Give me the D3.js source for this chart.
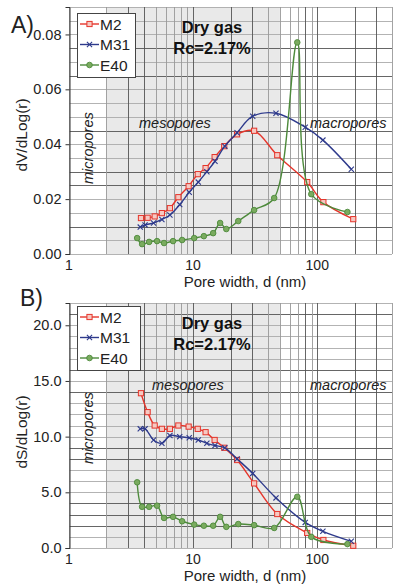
<!DOCTYPE html>
<meta charset="utf-8">
<style>
body { margin: 0; background: #fff; }
svg { font-family: "Liberation Sans", Arial, sans-serif; }
.tick-lab { font-size: 14px; fill: #222; }
.ann { font-size: 14.5px; font-style: italic; fill: #222; }
.title { font-size: 16.5px; font-weight: bold; fill: #111; }
</style>
<body>
<script src="https://d3js.org/d3.v7.min.js"></script>
<script>
// pore width (nm) per sample, shared by both panels
var dM2  = [3.8, 4.3, 4.9, 5.6, 6.5, 7.6, 9.2, 10.9, 12.6, 14.9, 17.8, 22.6, 31, 47.6, 83, 112, 195];
var dM31 = [3.75, 4.1, 4.8, 5.6, 6.5, 7.8, 9.3, 11.0, 12.9, 15.0, 18.0, 22.6, 30.2, 46.5, 80, 111, 188];
var dE40 = [3.54, 3.88, 4.42, 5.12, 5.83, 6.89, 8.15, 10.2, 12.2, 14.5, 16.5, 18.5, 23.1, 31, 45, 69, 89.5, 175];

// A) dV/dLog(r)
var vM2  = [0.0131, 0.0132, 0.0137, 0.0149, 0.0167, 0.0207, 0.0247, 0.0291, 0.0313, 0.0353, 0.0393, 0.0436, 0.0449, 0.036, 0.0262, 0.0189, 0.0127];
var vM31 = [0.0098, 0.0106, 0.0113, 0.0126, 0.0142, 0.0180, 0.0225, 0.0262, 0.0300, 0.0338, 0.0393, 0.0442, 0.0502, 0.0513, 0.0462, 0.0415, 0.0309];
var vE40 = [0.0058, 0.0036, 0.0044, 0.0047, 0.0040, 0.0047, 0.0051, 0.0058, 0.0065, 0.0076, 0.0113, 0.0091, 0.0120, 0.0160, 0.0204, 0.0771, 0.0218, 0.0153];

// B) dS/dLog(r)
var sM2  = [13.9, 12.2, 11.0, 10.7, 10.7, 11.0, 10.9, 10.7, 10.4, 9.7, 9.0, 7.9, 5.8, 3.05, 1.35, 0.72, 0.2];
var sM31 = [10.7, 10.7, 9.7, 9.4, 10.1, 10.0, 9.9, 9.7, 9.4, 9.2, 9.0, 8.0, 6.7, 4.5, 2.3, 1.5, 0.6];
var sE40 = [5.9, 3.7, 3.7, 3.8, 2.7, 2.8, 2.4, 2.1, 2.0, 2.0, 2.8, 1.9, 2.15, 2.05, 1.8, 4.6, 1.0, 0.35];

var seriesNames = ["M2", "M31", "E40"];
var xTicks = [1, 10, 100];
var xGrid = [1,2,3,4,5,6,7,8,9,10,20,30,40,50,60,70,80,90,100,200,300,400];
var xGridDark = [3, 4, 10, 20, 30, 80, 100, 200, 300];
var yTicksA = [0, 0.02, 0.04, 0.06, 0.08];
var yTicksB = [0, 5, 10, 15, 20];
var darkA = [0.01, 0.025, 0.03, 0.045, 0.065, 0.075];
var darkB = [2, 3, 4, 8, 9, 14, 16, 21];

var colors = { M2: "#e5352b", M31: "#2e3a8c", E40: "#4d8a3b" };

var svg = d3.select("body").append("svg")
  .attr("width", 396)
  .attr("height", 585);

var x = d3.scaleLog().domain([1, 400]).range([69, 392]);

function drawPanel(p) {
  var y = d3.scaleLinear().domain(p.yDomain).range([p.y1, p.y0]);
  var g = svg.append("g");

  // shaded mesopore band
  g.append("rect")
    .attr("x", x(2)).attr("width", x(50) - x(2))
    .attr("y", p.y0).attr("height", p.y1 - p.y0)
    .attr("fill", "#e9e9e9");

  // horizontal grid
  var hv = d3.range(0, p.yDomain[1] + p.minor / 2, p.minor);
  g.selectAll(".hg").data(hv).enter().append("line")
    .attr("x1", x(1)).attr("x2", x(400))
    .attr("y1", function(d) { return Math.round(y(d)) + 0.5; })
    .attr("y2", function(d) { return Math.round(y(d)) + 0.5; })
    .attr("stroke", function(d) {
      return p.dark.some(function(v) { return Math.abs(v - d) < 1e-6; }) ? "#555" : "#aaa";
    })
    .attr("stroke-width", 0.9);

  // vertical grid
  g.selectAll(".vg").data(xGrid).enter().append("line")
    .attr("x1", function(d) { return Math.round(x(d)) + 0.5; })
    .attr("x2", function(d) { return Math.round(x(d)) + 0.5; })
    .attr("y1", p.y0).attr("y2", p.y1)
    .attr("stroke", function(d) { return xGridDark.indexOf(d) >= 0 ? "#555" : "#999"; })
    .attr("stroke-width", 0.9);

  // left axis
  g.append("g")
    .attr("transform", "translate(" + (x(1) + 0.5) + ",0)")
    .call(d3.axisLeft(y).tickValues(p.yTicks).tickSize(4).tickPadding(4).tickFormat(p.fmt))
    .call(function(a) {
      a.select(".domain").attr("stroke", "#333");
      a.selectAll("line").attr("stroke", "#333");
      a.selectAll("text").attr("class", "tick-lab").style("font-size", "14.5px").attr("font-family", null);
    });

  // x tick labels
  g.selectAll(".xl").data(xTicks).enter().append("text")
    .attr("class", "tick-lab")
    .attr("x", function(d) { return x(d); })
    .attr("y", p.y1 + 16)
    .attr("text-anchor", "middle")
    .text(function(d) { return d; });

  g.append("text")
    .attr("x", 245).attr("y", p.y1 + 33)
    .attr("text-anchor", "middle")
    .style("font-size", "15px").attr("fill", "#222")
    .text("Pore width, d (nm)");

  g.append("text")
    .attr("transform", "translate(27," + p.yLabelY + ") rotate(-90)")
    .attr("text-anchor", "middle")
    .style("font-size", "15.5px").attr("fill", "#222")
    .text(p.yLabel);

  g.append("text")
    .attr("x", p.letterX).attr("y", p.letterY)
    .style("font-size", "23px").attr("fill", "#222")
    .text(p.letter);

  // annotations
  g.append("text").attr("class", "title").attr("x", 212).attr("y", p.y0 + 26)
    .attr("text-anchor", "middle").text("Dry gas");
  g.append("text").attr("class", "title").attr("x", 212).attr("y", p.y0 + 47)
    .attr("text-anchor", "middle").text("Rc=2.17%");
  g.append("text").attr("class", "ann").attr("x", p.mesoX).attr("y", p.annY).text("mesopores");
  g.append("text").attr("class", "ann").attr("x", 310).attr("y", p.annY).text("macropores");
  g.append("text").attr("class", "ann")
    .attr("transform", "translate(93," + p.microY + ") rotate(-90)")
    .text("micropores");

  // series
  var line = d3.line()
    .x(function(d) { return x(d[0]); })
    .y(function(d) { return y(d[1]); })
    .curve(d3.curveCatmullRom.alpha(0.5));

  p.series.forEach(function(s) {
    var pts = s.d.map(function(d, i) { return [d, s.v[i]]; });
    g.append("path").datum(pts)
      .attr("fill", "none")
      .attr("stroke", colors[s.name])
      .attr("stroke-width", 1.4)
      .attr("d", line);
    pts.forEach(function(q) { marker(g, s.name, x(q[0]), y(q[1])); });
  });

  // legend
  var lg = g.append("g").attr("transform", "translate(77," + p.legY + ")");
  lg.append("rect")
    .attr("x", 0.5).attr("y", 0.5)
    .attr("width", p.legW).attr("height", 64)
    .attr("fill", "#fff").attr("stroke", "#444");
  seriesNames.forEach(function(n, i) {
    var yy = 11 + i * 20.5;
    lg.append("line")
      .attr("x1", 3).attr("x2", 22).attr("y1", yy).attr("y2", yy)
      .attr("stroke", colors[n]).attr("stroke-width", 1.4);
    marker(lg, n, 12.5, yy);
    lg.append("text")
      .attr("x", 23).attr("y", yy + 5.5)
      .style("font-size", "15.5px").attr("fill", "#222")
      .text(n);
  });
}

function marker(g, name, cx, cy) {
  if (name === "M2") {
    g.append("rect")
      .attr("x", cx - 2.6).attr("y", cy - 2.6)
      .attr("width", 5.2).attr("height", 5.2)
      .attr("fill", "#f6c9c2").attr("stroke", colors.M2).attr("stroke-width", 1);
  } else if (name === "M31") {
    g.append("path")
      .attr("d", "M" + (cx - 2.6) + "," + (cy - 2.6) + "L" + (cx + 2.6) + "," + (cy + 2.6) +
                 "M" + (cx - 2.6) + "," + (cy + 2.6) + "L" + (cx + 2.6) + "," + (cy - 2.6))
      .attr("stroke", colors.M31).attr("stroke-width", 1.1);
  } else {
    g.append("circle")
      .attr("cx", cx).attr("cy", cy).attr("r", 2.8)
      .attr("fill", "#7aab5f").attr("stroke", colors.E40).attr("stroke-width", 0.9);
  }
}

drawPanel({
  y0: 7, y1: 254, yDomain: [0, 0.09], minor: 0.005, dark: darkA,
  yTicks: yTicksA, fmt: d3.format(".2f"),
  yLabel: "dV/dLog(r)", yLabelY: 135,
  letter: "A)", letterX: 11, letterY: 33,
  annY: 128, mesoX: 139, microY: 184, legY: 13, legW: 58,
  series: [
    { name: "M2", d: dM2, v: vM2 },
    { name: "M31", d: dM31, v: vM31 },
    { name: "E40", d: dE40, v: vE40 }
  ]
});

drawPanel({
  y0: 303, y1: 548, yDomain: [0, 22], minor: 1, dark: darkB,
  yTicks: yTicksB, fmt: d3.format(".1f"),
  yLabel: "dS/dLog(r)", yLabelY: 432,
  letter: "B)", letterX: 20, letterY: 306,
  annY: 390, mesoX: 152, microY: 464, legY: 306, legW: 63,
  series: [
    { name: "M2", d: dM2, v: sM2 },
    { name: "M31", d: dM31, v: sM31 },
    { name: "E40", d: dE40, v: sE40 }
  ]
});
</script>
